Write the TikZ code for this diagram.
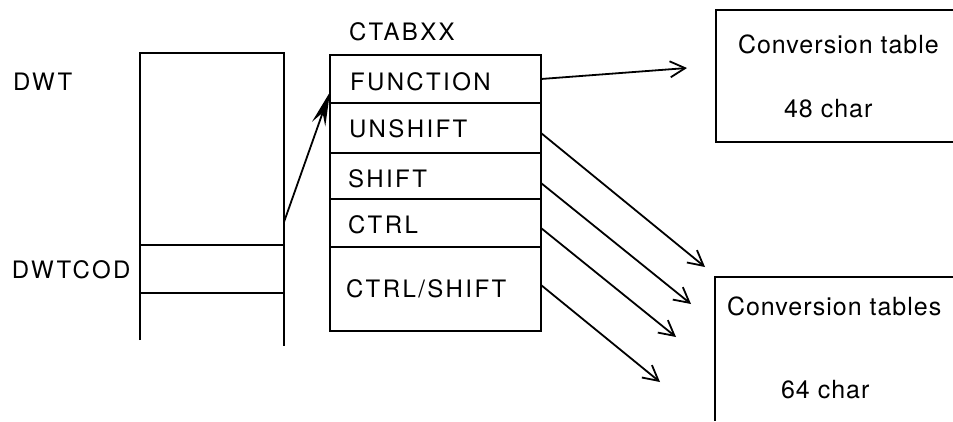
\documentclass[tikz,border=0pt]{standalone}
\usepackage{fontspec}
\setmainfont{TeX Gyre Heros}
\usetikzlibrary{arrows.meta}
\begin{document}
\begin{tikzpicture}[x=1pt,y=-1pt,
  line width=2pt,
  cell/.style={draw, rectangle, minimum width=211pt, inner sep=0pt, outer sep=0pt},
  caps/.style={font=\fontsize{24}{28}\selectfont\addfontfeature{LetterSpace=10}, inner sep=0pt, anchor=base west},
  plain/.style={font=\fontsize{25}{30}\selectfont\addfontfeature{LetterSpace=4}, inner sep=0pt, anchor=base west},
  barb/.style={-{Straight Barb[length=15pt,width=16pt]}, line width=1.8pt},
  longhead/.style={-{Stealth[length=34pt,width=14pt,inset=12pt]}, line width=1.8pt}
]
\useasboundingbox (0,0) rectangle (953,421);

% work area column, open at the bottom
\draw (140,340) -- (140,53) -- (284,53) -- (284,346);
\draw (140,245) -- (284,245);
\draw (140,293) -- (284,293);
\node[caps] (dwt) at (12,90) {DWT};
\node[caps] (dwtcod) at (11,278) {DWTCOD};
\coordinate (dwtout) at (284,222);

% CTABXX table
\node[caps] (ctab) at (348,40) {CTABXX};
\node[cell, minimum height=48pt] (fn) at (435.5,79) {};
\node[cell, minimum height=50pt] (un) at (435.5,128) {};
\node[cell, minimum height=46pt] (sh) at (435.5,176) {};
\node[cell, minimum height=48pt] (ct) at (435.5,223) {};
\node[cell, minimum height=84pt] (cs) at (435.5,289) {};
\node[caps] at (349,90) {FUNCTION};
\node[caps] at (348,137) {UNSHIFT};
\node[caps] at (347,187) {SHIFT};
\node[caps] at (347,233) {CTRL};
\node[caps] at (345,297) {CTRL/SHIFT};

% conversion tables, running off the right edge
\draw (953,10) -- (716,10) -- (716,142) -- (953,142);
\node[plain] (ct48) at (737,53) {Conversion table};
\node[plain] (c48) at (783,117) {48 char};
\draw (953,277) -- (715,277) -- (715,421);
\node[plain] (ct64) at (726,315) {Conversion tables};
\node[plain] (c64) at (780,398) {64 char};

% arrow ends
\coordinate (e48) at (687,68);
\coordinate (e1) at (705,267);
\coordinate (e2) at (691,304);
\coordinate (e3) at (676,337);
\coordinate (e4) at (660,382);

% connectors
\draw[longhead] (dwtout) -- ([yshift=-13pt]fn.west);
\draw[barb] (fn.east) -- (e48);
\draw[barb] ([yshift=-5pt]un.east) -- (e1);
\draw[barb] ([yshift=-7pt]sh.east) -- (e2);
\draw[barb] ([yshift=-5pt]ct.east) -- (e3);
\draw[barb] ([yshift=4pt]cs.east) -- (e4);
\end{tikzpicture}
\end{document}
